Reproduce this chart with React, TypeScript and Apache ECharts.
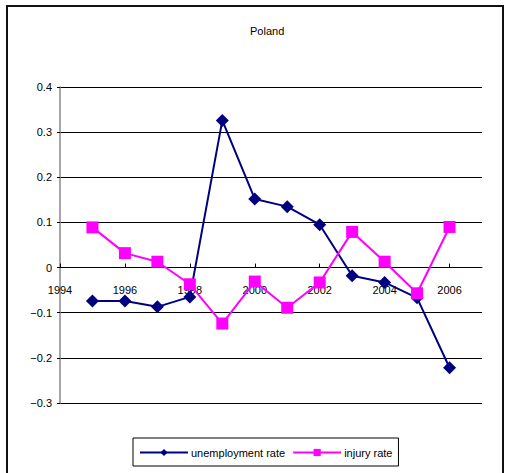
import React, { useEffect, useRef } from "react";
import * as echarts from "echarts";

const years = [1995, 1996, 1997, 1998, 1999, 2000, 2001, 2002, 2003, 2004, 2005, 2006];
const unemploymentRate = [-0.074, -0.074, -0.087, -0.065, 0.326, 0.152, 0.135, 0.095, -0.018, -0.033, -0.067, -0.222];
const injuryRate = [0.089, 0.032, 0.013, -0.037, -0.124, -0.031, -0.089, -0.033, 0.079, 0.013, -0.057, 0.09];
const xTickLabels = [1994, 1996, 1998, 2000, 2002, 2004, 2006];
const seriesNames = ["unemployment rate", "injury rate"];
const titleText = "Poland";
const yMin = -0.3;
const yMax = 0.4;

const FONT = "'Liberation Sans', Arial, sans-serif";
const GRID_TOP = 87;
const GRID_BOTTOM = 70;
const CH = 473;

export default function App() {
  const ref = useRef<HTMLDivElement>(null);
  useEffect(() => {
    if (!ref.current) return;
    const chart = echarts.init(ref.current, null, { renderer: "svg" });
    const gridH = CH - GRID_TOP - GRID_BOTTOM;
    const zeroFromBottom = (0 - yMin) / (yMax - yMin) * gridH;
    chart.setOption({
      animation: false,
      backgroundColor: "#ffffff",
      textStyle: { fontFamily: FONT },
      title: {
        text: titleText,
        left: 245,
        top: 20,
        textStyle: { fontSize: 11, fontWeight: "normal", color: "#000", fontFamily: FONT },
      },
      graphic: [
        {
          type: "rect",
          shape: { x: 7, y: 6, width: 496, height: 490 },
          style: { fill: "none", stroke: "#111", lineWidth: 2 },
          silent: true,
        },
      ],
      legend: {
        left: 133,
        top: 438,
        padding: [9, 6, 8, 6],
        borderColor: "#000",
        borderWidth: 1,
        itemWidth: 48,
        itemHeight: 9,
        itemGap: 7,
        textStyle: { fontSize: 11, color: "#000", fontFamily: FONT, padding: [0, 0, 0, -2] },
        data: seriesNames,
      },
      grid: { left: 60, right: 28, top: GRID_TOP, bottom: GRID_BOTTOM, containLabel: false },
      xAxis: {
        type: "value",
        min: 1994,
        max: 2007,
        interval: 2,
        position: "bottom",
        offset: -zeroFromBottom,
        axisLine: { onZero: false, lineStyle: { color: "#000", width: 1 } },
        axisTick: {
          show: true,
          inside: true,
          length: 4,
          customValues: xTickLabels,
          lineStyle: { color: "#000" },
        },
        axisLabel: {
          customValues: xTickLabels,
          margin: 17,
          fontSize: 11,
          color: "#000",
          fontFamily: FONT,
          formatter: (v: number) => String(v),
        },
        splitLine: { show: false },
      },
      yAxis: {
        type: "value",
        min: yMin,
        max: yMax,
        interval: 0.1,
        axisLine: { show: true, onZero: false, lineStyle: { color: "#888", width: 1.5 } },
        axisTick: { show: true, length: 3, lineStyle: { color: "#000" } },
        axisLabel: {
          margin: 8,
          fontSize: 11,
          color: "#000",
          fontFamily: FONT,
          formatter: (v: number) => {
            const r = Math.round(v * 10) / 10;
            if (r === 0) return "0";
            return r < 0 ? "\u2212" + Math.abs(r).toFixed(1) : r.toFixed(1);
          },
        },
        splitLine: { show: true, lineStyle: { color: "#000", width: 1 } },
      },
      series: [
        {
          name: seriesNames[0],
          type: "line",
          data: years.map((y, i) => [y, unemploymentRate[i]]),
          symbol: "diamond",
          symbolSize: 13,
          lineStyle: { color: "#000080", width: 2 },
          itemStyle: { color: "#000080" },
          z: 3,
        },
        {
          name: seriesNames[1],
          type: "line",
          data: years.map((y, i) => [y, injuryRate[i]]),
          symbol: "rect",
          symbolSize: 12,
          lineStyle: { color: "#ff00ff", width: 2 },
          itemStyle: { color: "#ff00ff" },
          z: 4,
        },
      ],
    });
    return () => chart.dispose();
  }, []);
  return (
    <div
      ref={ref}
      style={{ position: "fixed", left: 0, top: 0, width: 510, height: 473, background: "#fff" }}
    />
  );
}
